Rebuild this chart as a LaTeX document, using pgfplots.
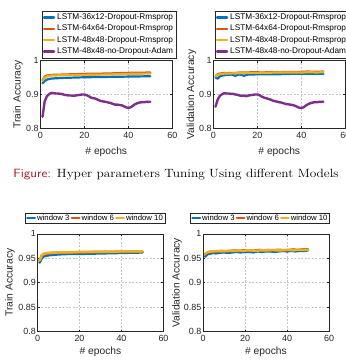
\documentclass[border=0pt]{standalone}
\usepackage{pgfplots}
\pgfplotsset{compat=1.18}
\usepackage{fontspec}
\newfontfamily\arial{Liberation Sans}
\definecolor{mblue}{rgb}{0,0.447,0.741}
\definecolor{morange}{rgb}{0.85,0.325,0.098}
\definecolor{myellow}{rgb}{0.929,0.694,0.125}
\definecolor{mpurple}{rgb}{0.494,0.184,0.556}
\definecolor{capred}{rgb}{0.65,0.1,0.13}
\definecolor{axgray}{rgb}{0.15,0.15,0.15}
\pgfplotsset{
  mstyle/.style={
    scale only axis, anchor=south west,
    xmin=0, xmax=60, xtick={0,20,40,60},
    axis line style={axgray, line width=0.5bp},
    tick style={axgray, line width=0.4bp},
    tick align=inside, major tick length=2bp,
    grid=major,
    major grid style={gray!45, line width=0.4bp, dash pattern=on 2bp off 1.5bp},
    /pgf/number format/assume math mode=true,
    tick label style={font=\arial\fontsize{9}{10}\selectfont, text=axgray},
    yticklabel style={inner xsep=1.5bp},
    label style={font=\arial\fontsize{10.3}{11}\selectfont, text=axgray},
    xlabel={\# epochs},
    every axis plot/.append style={line join=round, line cap=round},
  },
  toplegend/.style={
    legend style={at={(0.01,1)}, anchor=south west, yshift=2.4bp,
      font=\arial\fontsize{8.3}{9}\selectfont, draw=axgray, line width=0.4bp,
      cells={anchor=west}, inner xsep=1bp, inner ysep=1bp},
    legend image code/.code={\draw[##1] (0bp,0bp) -- (10bp,0bp);},
  },
  botlegend/.style={
    legend columns=3,
    legend style={at={(#1,1)}, anchor=south, yshift=10.5bp,
      font=\arial\fontsize{7.8}{8}\selectfont, draw=axgray, line width=0.4bp,
      cells={anchor=west}, inner xsep=1bp, inner ysep=0.5bp,
      nodes={inner xsep=1bp, inner ysep=1bp}},
    legend image code/.code={\draw[##1] (0bp,0bp) -- (7.5bp,0bp);},
  },
}
\begin{document}
\begin{tikzpicture}
\path[use as bounding box] (0bp,0bp) rectangle (346bp,360bp);

% ---------- top left: train accuracy, models
\begin{axis}[mstyle, toplegend, at={(40.3bp,231.7bp)}, width=132bp, height=67.6bp,
  ymin=0.8, ymax=1, ytick={0.8,0.9,1},
  ylabel={Train Accuracy},
  ylabel style={at={(axis description cs:-0.169,0.5)}, anchor=center},
  xlabel style={at={(axis description cs:0.5,-0.35)}, anchor=center}]
\addplot[mblue, line width=2.2bp] coordinates {(1,0.933)(2,0.940)(3,0.944)(4,0.946)(5,0.947)(7,0.948)(10,0.949)(15,0.950)(20,0.951)(30,0.952)(40,0.953)(50,0.954)};
\addlegendentry{LSTM-36x12-Dropout-Rmsprop}
\addplot[morange, line width=2.2bp] coordinates {(1,0.942)(2,0.953)(3,0.956)(4,0.957)(5,0.958)(10,0.959)(20,0.961)(30,0.962)(40,0.964)(50,0.965)};
\addlegendentry{LSTM-64x64-Dropout-Rmsprop}
\addplot[myellow, line width=2.2bp] coordinates {(1,0.940)(2,0.950)(3,0.953)(4,0.955)(5,0.956)(10,0.957)(20,0.958)(30,0.959)(40,0.961)(50,0.962)};
\addlegendentry{LSTM-48x48-Dropout-Rmsprop}
\addplot[mpurple, line width=2.4bp] coordinates {(1,0.834)(2,0.880)(3,0.895)(4,0.901)(5,0.905)(6,0.904)(7,0.903)(8,0.903)(9,0.902)(10,0.901)(11,0.899)(12,0.898)(13,0.897)(14,0.897)(15,0.896)(16,0.897)(17,0.898)(18,0.899)(19,0.900)(20,0.900)(21,0.898)(22,0.895)(23,0.891)(24,0.889)(25,0.888)(26,0.885)(27,0.882)(28,0.880)(29,0.879)(30,0.878)(31,0.876)(32,0.875)(33,0.872)(34,0.870)(35,0.870)(36,0.869)(37,0.868)(38,0.865)(39,0.862)(40,0.860)(41,0.862)(42,0.866)(43,0.871)(44,0.874)(45,0.876)(46,0.877)(47,0.877)(48,0.878)(49,0.878)(50,0.878)};
\addlegendentry{LSTM-48x48-no-Dropout-Adam}
\end{axis}

% ---------- top right: validation accuracy, models
\begin{axis}[mstyle, toplegend, at={(213.3bp,231.7bp)}, width=132bp, height=67.6bp,
  ymin=0.8, ymax=1, ytick={0.8,0.9,1},
  ylabel={Validation Accuracy},
  ylabel style={at={(axis description cs:-0.165,0.5)}, anchor=center},
  xlabel style={at={(axis description cs:0.5,-0.35)}, anchor=center}]
\addplot[mblue, line width=2.2bp] coordinates {(1,0.950)(2,0.947)(3,0.954)(4,0.956)(5,0.957)(6,0.958)(7,0.958)(8,0.959)(9,0.958)(10,0.955)(11,0.958)(12,0.959)(13,0.958)(14,0.955)(15,0.958)(16,0.959)(18,0.959)(20,0.960)(25,0.960)(30,0.960)(35,0.961)(40,0.961)(45,0.961)(50,0.961)};
\addlegendentry{LSTM-36x12-Dropout-Rmsprop}
\addplot[morange, line width=2.2bp] coordinates {(1,0.955)(2,0.960)(3,0.962)(4,0.963)(5,0.964)(6,0.963)(8,0.964)(10,0.964)(12,0.965)(15,0.965)(18,0.966)(20,0.966)(22,0.965)(25,0.966)(28,0.967)(30,0.966)(33,0.967)(36,0.967)(40,0.967)(43,0.968)(46,0.967)(50,0.968)};
\addlegendentry{LSTM-64x64-Dropout-Rmsprop}
\addplot[myellow, line width=2.2bp] coordinates {(1,0.953)(2,0.958)(3,0.960)(4,0.961)(5,0.962)(7,0.962)(10,0.963)(13,0.963)(16,0.964)(20,0.964)(24,0.964)(28,0.965)(32,0.965)(36,0.965)(40,0.965)(44,0.966)(47,0.965)(50,0.966)};
\addlegendentry{LSTM-48x48-Dropout-Rmsprop}
\addplot[mpurple, line width=2.4bp] coordinates {(1,0.864)(2,0.885)(3,0.896)(4,0.901)(5,0.904)(6,0.903)(7,0.903)(8,0.902)(9,0.902)(10,0.900)(11,0.899)(12,0.897)(13,0.896)(14,0.897)(15,0.895)(16,0.897)(17,0.898)(18,0.899)(19,0.900)(20,0.900)(21,0.898)(22,0.894)(23,0.891)(24,0.889)(25,0.887)(26,0.885)(27,0.882)(28,0.880)(29,0.879)(30,0.877)(31,0.876)(32,0.874)(33,0.872)(34,0.871)(35,0.870)(36,0.869)(37,0.867)(38,0.864)(39,0.861)(40,0.860)(41,0.862)(42,0.867)(43,0.871)(44,0.874)(45,0.876)(46,0.877)(47,0.877)(48,0.878)(49,0.878)(50,0.879)};
\addlegendentry{LSTM-48x48-no-Dropout-Adam}
\end{axis}

% ---------- caption
\node[font=\fontsize{12}{14}\selectfont, anchor=center, xscale=1.12] at (176bp,185bp)
  {{\sffamily\color{capred}Figure:} Hyper parameters Tuning Using different Models};

% ---------- bottom left: train accuracy, windows
\begin{axis}[mstyle, botlegend=0.456, at={(37.5bp,28.5bp)}, width=126bp, height=97.7bp,
  ymin=0.8, ymax=1, ytick={0.8,0.85,0.9,0.95,1},
  ylabel={Train Accuracy},
  ylabel style={at={(axis description cs:-0.218,0.5)}, anchor=center},
  xlabel style={at={(axis description cs:0.5,-0.212)}, anchor=center}]
\addplot[mblue, line width=2.6bp] coordinates {(1,0.941)(2,0.950)(3,0.954)(4,0.955)(5,0.956)(7,0.957)(10,0.958)(15,0.959)(20,0.959)(30,0.960)(40,0.961)(50,0.962)};
\addlegendentry{window 3}
\addplot[morange, line width=2.6bp] coordinates {(1,0.945)(2,0.955)(3,0.958)(4,0.959)(5,0.960)(7,0.961)(10,0.961)(15,0.962)(20,0.962)(30,0.963)(40,0.963)(50,0.964)};
\addlegendentry{window 6}
\addplot[myellow, line width=2.6bp] coordinates {(1,0.946)(2,0.956)(3,0.959)(4,0.960)(5,0.961)(7,0.961)(10,0.962)(15,0.962)(20,0.963)(30,0.963)(40,0.964)(50,0.964)};
\addlegendentry{window 10}
\end{axis}

% ---------- bottom right: validation accuracy, windows
\begin{axis}[mstyle, botlegend=0.452, at={(203bp,28.5bp)}, width=126bp, height=97.7bp,
  ymin=0.8, ymax=1, ytick={0.8,0.85,0.9,0.95,1},
  ylabel={Validation Accuracy},
  ylabel style={at={(axis description cs:-0.206,0.5)}, anchor=center},
  xlabel style={at={(axis description cs:0.5,-0.212)}, anchor=center}]
\addplot[mblue, line width=2.4bp] coordinates {(1,0.953)(2,0.958)(3,0.959)(4,0.960)(5,0.961)(6,0.960)(8,0.961)(10,0.962)(12,0.961)(14,0.962)(16,0.963)(18,0.962)(20,0.963)(22,0.963)(24,0.962)(26,0.964)(28,0.963)(30,0.964)(32,0.964)(34,0.963)(36,0.964)(38,0.965)(40,0.964)(42,0.965)(44,0.964)(46,0.965)(48,0.965)(50,0.966)};
\addlegendentry{window 3}
\addplot[morange, line width=2.4bp] coordinates {(1,0.958)(2,0.961)(3,0.963)(4,0.963)(5,0.964)(7,0.964)(9,0.965)(11,0.964)(13,0.965)(15,0.966)(17,0.965)(19,0.966)(21,0.966)(23,0.965)(25,0.966)(27,0.967)(29,0.966)(31,0.967)(33,0.966)(35,0.967)(37,0.967)(39,0.966)(41,0.967)(43,0.968)(45,0.967)(47,0.968)(50,0.968)};
\addlegendentry{window 6}
\addplot[myellow, line width=2.4bp] coordinates {(1,0.959)(2,0.962)(3,0.963)(4,0.964)(5,0.964)(7,0.965)(9,0.964)(11,0.965)(13,0.965)(15,0.965)(17,0.966)(19,0.965)(21,0.966)(23,0.966)(25,0.965)(27,0.966)(29,0.966)(31,0.966)(33,0.967)(35,0.966)(37,0.966)(39,0.967)(41,0.967)(43,0.966)(45,0.967)(47,0.967)(50,0.967)};
\addlegendentry{window 10}
\end{axis}
\end{tikzpicture}
\end{document}
